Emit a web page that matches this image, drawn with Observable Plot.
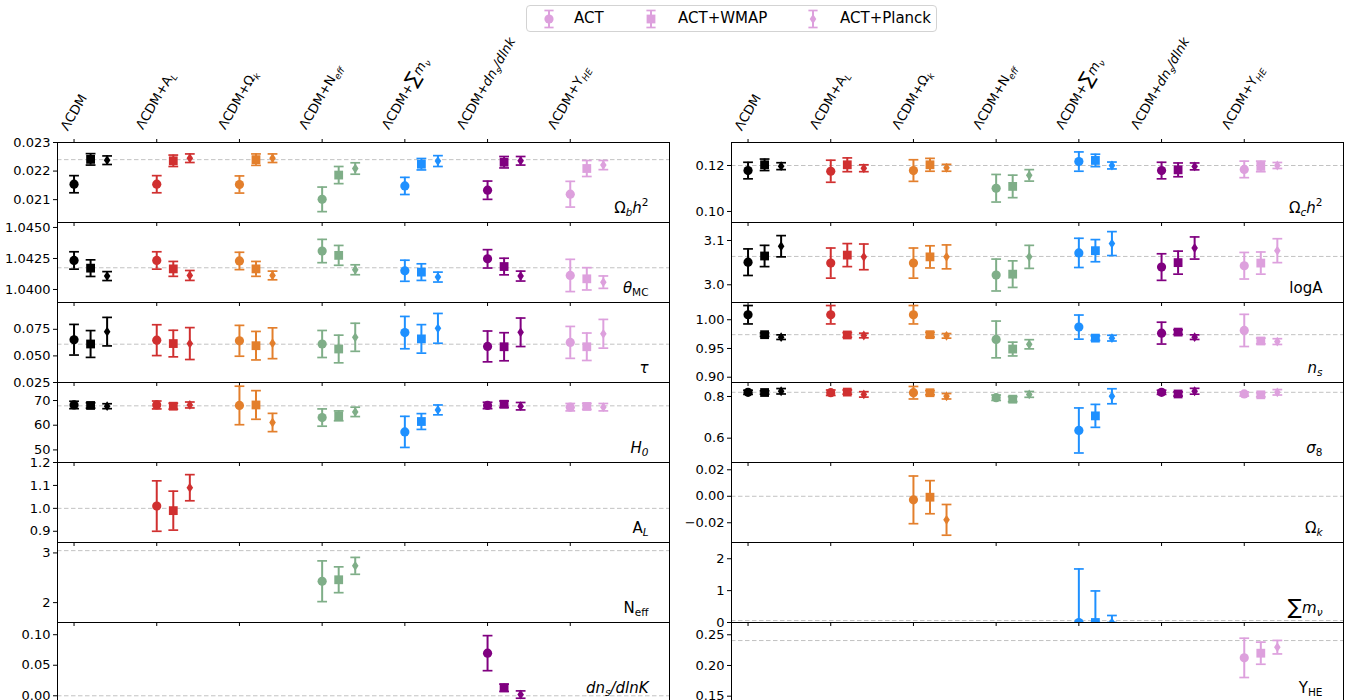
<!DOCTYPE html>
<html><head><meta charset="utf-8">
<script src="https://cdn.jsdelivr.net/npm/d3@7"></script>
<script src="https://cdn.jsdelivr.net/npm/@observablehq/plot@0.6"></script>
<style>
body{margin:0;background:#fff;font-family:"DejaVu Sans",sans-serif}
#root{position:relative;width:1348px;height:700px;overflow:hidden;background:#fff}
.panel{position:absolute}
.panel svg{overflow:visible}
#legend{position:absolute;left:526px;top:5px;width:411px;height:27px;border:1px solid #d3d3d3;border-radius:4px;box-sizing:border-box;font-size:15px;background:#fff}
.litem{position:absolute;top:0;height:25px;line-height:25px;white-space:nowrap}
</style></head><body><div id="root"></div><script>
// ---------- data ----------
const models = ["ΛCDM","ΛCDM+A_L","ΛCDM+Ω_k","ΛCDM+N_eff","ΛCDM+∑m_ν","ΛCDM+dn_s/dlnk","ΛCDM+Y_HE"];
const modelLabelParts = [
  [["ΛCDM",""]],
  [["ΛCDM+A",""],["L","sub it"]],
  [["ΛCDM+Ω",""],["k","sub it"]],
  [["ΛCDM+N",""],["eff","sub it"]],
  [["ΛCDM+",""],["∑","big"],["m","it"],["ν","sub it"]],
  [["ΛCDM+",""],["dn","it"],["s","sub it"],["/dlnk","it"]],
  [["ΛCDM+Y",""],["HE","sub it"]]
];
const datasets = ["ACT","ACT+WMAP","ACT+Planck"];
const modelColors = ["#000000","#d03030","#e37f2c","#7fae88","#1e90ff","#800080","#dda0dd"];
const modelTicks = [0,1,2,3,4,5,6];

// [ACT, ACT+WMAP, ACT+Planck] per model
const ombh2 = [[0.02154,0.02241,0.02238],[0.02154,0.02236,0.02245],[0.02153,0.02240,0.02245],[0.02101,0.02186,0.02209],[0.02148,0.02224,0.02235],[0.02133,0.02231,0.02236],[0.02119,0.02209,0.02221]];
const ombh2Err = [[0.0003,0.0002,0.00015],[0.0003,0.0002,0.00015],[0.0003,0.0002,0.00015],[0.00043,0.0003,0.0002],[0.0003,0.0002,0.00019],[0.00032,0.0002,0.00015],[0.00045,0.00028,0.00016]];
const theta = [[1.04234,1.04172,1.04108],[1.04234,1.04166,1.04113],[1.0423,1.04166,1.04113],[1.0431,1.04275,1.04159],[1.04151,1.0414,1.041],[1.04247,1.04185,1.04108],[1.04113,1.04086,1.04059]];
const thetaErr = [[0.0007,0.00067,0.00036],[0.0007,0.0006,0.0004],[0.0007,0.0006,0.00035],[0.00094,0.0008,0.0004],[0.00085,0.00067,0.0004],[0.00074,0.00067,0.0004],[0.0013,0.0009,0.0005]];
const tau = [[0.0652,0.0612,0.0728],[0.0648,0.0616,0.0616],[0.0642,0.0596,0.0619],[0.0612,0.0565,0.0675],[0.0719,0.066,0.0759],[0.0589,0.0586,0.0722],[0.0627,0.0586,0.0708]];
const tauErr = [[0.0144,0.0126,0.0134],[0.0145,0.0125,0.015],[0.0145,0.0134,0.0145],[0.0127,0.013,0.0132],[0.0152,0.0134,0.014],[0.0145,0.0132,0.0134],[0.015,0.0129,0.0135]];
const h0 = [[68.2,68.0,67.7],[68.2,67.7,68.2],[68.0,68.2,61.1],[63.1,63.8,65.4],[57.3,61.5,66.2],[68.0,68.5,67.7],[67.3,67.6,67.3]];
const h0Err = [[1.5,1.1,1.0],[1.6,1.2,1.2],[7.8,5.8,3.7],[3.5,2.0,1.9],[6.3,3.2,2.0],[1.3,1.3,1.5],[1.5,1.2,1.5]];
const alens = [[1.010,0.990,1.090]];
const alensErr = [[0.11,0.085,0.057]];
const neff = [[2.43,2.46,2.74]];
const neffErr = [[0.41,0.26,0.17]];
const nrun = [[0.0698,0.0131,0.002]];
const nrunErr = [[0.0287,0.006,0.006]];

const omch2 = [[0.1178,0.1203,0.1197],[0.1175,0.1203,0.1188],[0.1178,0.1203,0.119],[0.1101,0.1109,0.1157],[0.1217,0.1222,0.12],[0.1178,0.1181,0.1196],[0.1183,0.1196,0.12]];
const omch2Err = [[0.0036,0.0025,0.0015],[0.0048,0.003,0.0015],[0.0047,0.0028,0.0015],[0.006,0.0049,0.0025],[0.0042,0.0027,0.0015],[0.0036,0.003,0.0015],[0.0036,0.0023,0.0013]];
const logA = [[3.051,3.065,3.087],[3.049,3.067,3.063],[3.049,3.063,3.063],[3.022,3.024,3.063],[3.072,3.077,3.093],[3.040,3.050,3.083],[3.043,3.049,3.077]];
const logAErr = [[0.030,0.024,0.024],[0.034,0.026,0.029],[0.034,0.025,0.027],[0.036,0.030,0.026],[0.033,0.025,0.027],[0.030,0.026,0.025],[0.030,0.025,0.027]];
const ns = [[1.0087,0.974,0.9697],[1.0087,0.9735,0.9726],[1.0087,0.974,0.972],[0.9657,0.949,0.9573],[0.9872,0.968,0.968],[0.9767,0.9785,0.9697],[0.9814,0.963,0.962]];
const nsErr = [[0.016,0.003,0.004],[0.016,0.004,0.004],[0.016,0.004,0.004],[0.032,0.012,0.008],[0.021,0.004,0.005],[0.019,0.004,0.004],[0.028,0.005,0.005]];
const sigma8 = [[0.82,0.819,0.825],[0.818,0.821,0.81],[0.818,0.818,0.801],[0.794,0.787,0.81],[0.637,0.707,0.801],[0.82,0.812,0.825],[0.812,0.808,0.82]];
const sigma8Err = [[0.01,0.008,0.013],[0.013,0.01,0.013],[0.03,0.01,0.013],[0.013,0.012,0.014],[0.108,0.055,0.036],[0.01,0.01,0.014],[0.01,0.01,0.013]];
const omk = [[-0.0027,-0.0007,-0.0178]];
const omkErr = [[0.018,0.0125,0.0116]];
const mnu = [[0,0,0]];
const mnuErrLo = [[0,0,0]];
const mnuErrHi = [[1.68,0.99,0.22]];
const yhe = [[0.2124,0.220,0.2298]];
const yheErr = [[0.032,0.018,0.011]];

// ---------- helpers ----------
function makeRows(modelIdx, means, errLo, errHi) {
  const rows = [];
  modelIdx.forEach((m, k) => {
    datasets.forEach((ds, j) => {
      const v = means[k][j];
      rows.push({x: m + j * 0.2, y: v, lo: v - errLo[k][j], hi: v + errHi[k][j], color: modelColors[m], ds: j});
    });
  });
  return rows;
}
const all = modelTicks;
const leftPanels = [
  {rows: makeRows(all, ombh2, ombh2Err, ombh2Err), domain:[0.0202,0.0230], ticks:[0.021,0.022,0.023], fmt:".3f", ref:0.0224, label:[["Ω",""],["b","sub it"],["h","it"],["2","sup"]]},
  {rows: makeRows(all, theta, thetaErr, thetaErr), domain:[1.03895,1.0454], ticks:[1.04,1.0425,1.045], fmt:".4f", ref:1.04175, label:[["θ","it"],["MC","sub"]]},
  {rows: makeRows(all, tau, tauErr, tauErr), domain:[0.025,0.1002], ticks:[0.025,0.05,0.075], fmt:".3f", ref:0.061, label:[["τ","it"]]},
  {rows: makeRows(all, h0, h0Err, h0Err), domain:[44.9,77.3], ticks:[50,60,70], fmt:"d", ref:67.85, label:[["H","it"],["0","sub it"]]},
  {rows: makeRows([1], alens, alensErr, alensErr), domain:[0.851,1.2], ticks:[0.9,1.0,1.1,1.2], fmt:".1f", ref:1.0, label:[["A",""],["L","sub it"]]},
  {rows: makeRows([3], neff, neffErr, neffErr), domain:[1.6,3.21], ticks:[2,3], fmt:"d", ref:3.046, label:[["N",""],["eff","sub"]]},
  {rows: makeRows([5], nrun, nrunErr, nrunErr), domain:[-0.011,0.12], ticks:[0,0.05,0.10], fmt:".2f", ref:0, label:[["dn","it"],["s","sub it"],["/dlnK","it"]]}
];
const rightPanels = [
  {rows: makeRows(all, omch2, omch2Err, omch2Err), domain:[0.0952,0.130], ticks:[0.10,0.12], fmt:".2f", ref:0.12, label:[["Ω",""],["c","sub it"],["h","it"],["2","sup"]]},
  {rows: makeRows(all, logA, logAErr, logAErr), domain:[2.96,3.1406], ticks:[3.0,3.1], fmt:".1f", ref:3.064, label:[["logA",""]]},
  {rows: makeRows(all, ns, nsErr, nsErr), domain:[0.8908,1.030], ticks:[0.90,0.95,1.00], fmt:".2f", ref:0.974, label:[["n","it"],["s","sub it"]]},
  {rows: makeRows(all, sigma8, sigma8Err, sigma8Err), domain:[0.4834,0.867], ticks:[0.6,0.8], fmt:".1f", ref:0.82, label:[["σ","it"],["8","sub"]]},
  {rows: makeRows([2], omk, omkErr, omkErr), domain:[-0.0349,0.0255], ticks:[-0.02,0,0.02], fmt:".2f", ref:0, label:[["Ω",""],["k","sub it"]]},
  {rows: makeRows([4], mnu, mnuErrLo, mnuErrHi), domain:[0,2.51], ticks:[0,1,2], fmt:"d", ref:0.06, label:[["∑","big"],["m","it"],["ν","sub it"]]},
  {rows: makeRows([6], yhe, yheErr, yheErr), domain:[0.1397,0.270], ticks:[0.15,0.20,0.25], fmt:".2f", ref:0.2406, label:[["Y",""],["HE","sub"]]}
];

const capSymbol = {draw(ctx){ ctx.moveTo(-4.9,0); ctx.lineTo(4.9,0); }};
const squareSymbol = {draw(ctx){ ctx.rect(-4.4,-4.4,8.8,8.8); }};
const diamondSymbol = {draw(ctx){ ctx.moveTo(0,-4.9); ctx.lineTo(3.3,0); ctx.lineTo(0,4.9); ctx.lineTo(-3.3,0); ctx.closePath(); }};

const svgns = "http://www.w3.org/2000/svg";
function richify(el, parts, base) {
  el.textContent = "";
  let shift = 0;
  for (const [t, st] of parts) {
    const ts = document.createElementNS(svgns, "tspan");
    let target = 0, size = base;
    if (st.includes("sub")) { target = 0.26 * base; size = 0.7 * base; }
    if (st.includes("sup")) { target = -0.42 * base; size = 0.7 * base; }
    if (st.includes("big")) { size = 1.4 * base; target = 0.08 * base; }
    ts.setAttribute("dy", (target - shift).toFixed(2));
    shift = target;
    ts.setAttribute("font-size", size.toFixed(2));
    if (st.includes("it")) ts.setAttribute("font-style", "italic");
    ts.textContent = t;
    el.appendChild(ts);
  }
}
const plainOf = parts => parts.map(p => p[0]).join("");

function makePanel(cfg, isTop) {
  const rows = cfg.rows;
  const marks = [
    Plot.ruleY([cfg.ref], {stroke: "#c2c2c2", strokeWidth: 1, strokeDasharray: "4.5,2.5"}),
    Plot.ruleX(rows, {x: "x", y1: "lo", y2: "hi", stroke: "color", strokeWidth: 2, clip: true}),
    Plot.dot(rows, {x: "x", y: "lo", symbol: capSymbol, r: 1, stroke: "color", strokeWidth: 1.7, fill: "none", clip: true}),
    Plot.dot(rows, {x: "x", y: "hi", symbol: capSymbol, r: 1, stroke: "color", strokeWidth: 1.7, fill: "none", clip: true}),
    Plot.dot(rows.filter(d => d.ds === 0), {x: "x", y: "y", r: 4.6, fill: "color", clip: true}),
    Plot.dot(rows.filter(d => d.ds === 1), {x: "x", y: "y", symbol: squareSymbol, r: 1, fill: "color", clip: true}),
    Plot.dot(rows.filter(d => d.ds === 2), {x: "x", y: "y", symbol: diamondSymbol, r: 1, fill: "color", clip: true}),
    Plot.frame({stroke: "#000", strokeWidth: 1}),
    Plot.axisY(cfg.ticks, {anchor: "left", tickSize: 4, tickPadding: 3, tickFormat: d3.format(cfg.fmt), fontSize: 13, label: null}),
    Plot.axisX(modelTicks, {anchor: "bottom", tickSize: 4, tickFormat: () => "", label: null}),
    Plot.text([plainOf(cfg.label)], {frameAnchor: "bottom-right", dx: -21, dy: -10, textAnchor: "end", lineAnchor: "bottom", fontSize: 15, text: d => d})
  ];
  if (isTop) {
    marks.push(Plot.axisX(modelTicks, {anchor: "top", tickSize: 4, tickFormat: () => "", label: null}));
    marks.push(Plot.text(models, {x: (d, i) => i, frameAnchor: "top", text: d => d, rotate: -60, textAnchor: "middle", lineAnchor: "middle", fontSize: 13}));
  }
  return Plot.plot({
    width: 669, height: 80, marginTop: 0, marginBottom: 0, marginLeft: 57, marginRight: 0,
    x: {domain: [-0.2, 7.2]},
    y: {domain: cfg.domain},
    color: {type: "identity"},
    style: {background: "transparent", overflow: "visible", fontFamily: "DejaVu Sans", fontSize: "13px", color: "#000"},
    marks
  });
}

const root = document.getElementById("root");
const built = [];
[[leftPanels, 0], [rightPanels, 674]].forEach(([panels, left]) => {
  panels.forEach((cfg, r) => {
    const plot = makePanel(cfg, r === 0);
    const div = document.createElement("div");
    div.className = "panel";
    div.style.left = left + "px";
    div.style.top = (142 + 80 * r) + "px";
    div.appendChild(plot);
    root.appendChild(div);
    built.push({plot, cfg, top: r === 0});
  });
});

// rich text + label placement
for (const {plot, cfg, top} of built) {
  const svg = plot.tagName.toLowerCase() === "svg" ? plot : plot.querySelector("svg");
  const texts = Array.from(svg.querySelectorAll("text"));
  const plain = plainOf(cfg.label);
  texts.filter(el => el.textContent === plain).forEach(el => richify(el, cfg.label, 15));
  if (top) {
    const xs = plot.scale("x");
    const sr = svg.getBoundingClientRect();
    models.forEach((name, i) => {
      const el = texts.find(t => t.textContent === name);
      if (!el) return;
      richify(el, modelLabelParts[i], 13);
      const r = el.getBoundingClientRect();
      const cx = (r.left + r.right) / 2 - sr.left;
      const bottom = r.bottom - sr.top;
      const tx = xs.apply(i) - cx;
      const ty = -9 - bottom;
      el.setAttribute("transform", `translate(${tx.toFixed(2)},${ty.toFixed(2)}) ` + (el.getAttribute("transform") || ""));
    });
  }
}

// legend
const legend = d3.select(root).append("div").attr("id", "legend");
const legendPos = [[22, 47], [124, 151], [286, 313]];
const legendColor = modelColors[6];
datasets.forEach((name, j) => {
  const [mx, tx] = legendPos[j];
  const s = legend.append("svg").attr("width", 14).attr("height", 25)
    .style("position", "absolute").style("left", (mx - 7) + "px").style("top", "0px");
  s.append("line").attr("x1", 7).attr("x2", 7).attr("y1", 4.5).attr("y2", 21.5).attr("stroke", legendColor).attr("stroke-width", 2);
  s.append("line").attr("x1", 2.4).attr("x2", 11.6).attr("y1", 4.5).attr("y2", 4.5).attr("stroke", legendColor).attr("stroke-width", 1.7);
  s.append("line").attr("x1", 2.4).attr("x2", 11.6).attr("y1", 21.5).attr("y2", 21.5).attr("stroke", legendColor).attr("stroke-width", 1.7);
  const sym = [d3.symbolCircle, squareSymbol, diamondSymbol][j];
  s.append("path").attr("transform", "translate(7,13)")
    .attr("d", j === 0 ? d3.symbol(d3.symbolCircle, Math.PI * 4.6 * 4.6)() : d3.symbol(sym, 1)())
    .attr("fill", legendColor);
  legend.append("div").attr("class", "litem").style("left", tx + "px").text(name);
});
</script></body></html>
